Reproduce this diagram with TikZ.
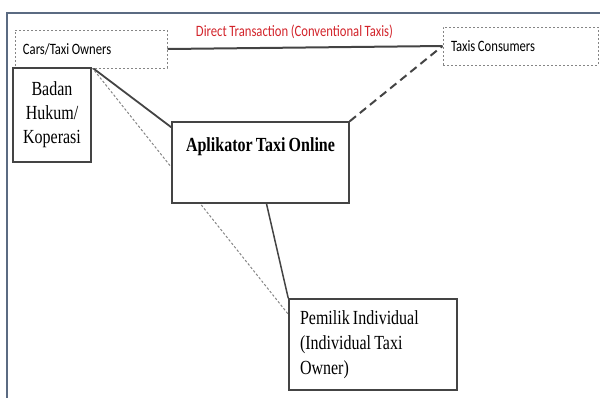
\documentclass[tikz,border=0pt]{standalone}
\usepackage{fontspec}
\setmainfont{Liberation Serif}[FakeStretch=0.8,WordSpace=0.8]
\newfontfamily\calib{Carlito}[FakeStretch=0.8,WordSpace=0.9]
\usepackage{tikz}
\usetikzlibrary{calc}
\definecolor{framecol}{HTML}{5B6B82}
\definecolor{boxcol}{HTML}{444444}
\definecolor{dotcol}{HTML}{858585}
\definecolor{redtxt}{HTML}{D2232A}
\pgfdeclarelayer{background}
\pgfsetlayers{background,main}

\begin{document}
\begin{tikzpicture}[x=0.5pt,y=-0.5pt,
solidbox/.style={draw=boxcol,fill=white,line width=0.75pt,inner sep=0pt,font=\fontsize{10}{12}\selectfont},
dotbox/.style={draw=dotcol,fill=white,line width=0.5pt,dash pattern=on 1.2pt off 0.8pt,inner ysep=0pt,inner xsep=4pt,
  minimum height=19pt,align=flush left,font=\calib\fontsize{7.9}{9}\selectfont}
]
\useasboundingbox (0,0) rectangle (600,398);
% The frame
\draw[framecol,line width=0.75pt] (600,13) -- (7,13) -- (7,398);

% The boxes
\node[dotbox,minimum width=76pt,text width=68pt] (cars) at (91,49) {Cars/Taxi Owners};
\node[dotbox,minimum width=77.5pt,text width=69.5pt] (taxis) at (520.5,46) {Taxis Consumers};
\node[solidbox,minimum width=39pt,minimum height=47pt,text width=39pt,align=center] (badan) at (52,115) {Badan\\Hukum/\\Koperasi};
\node[solidbox,minimum width=88.5pt,text height=14.5pt,text depth=26pt,font=\bfseries\fontsize{10}{12}\selectfont] (apl) at (260.5,162.5) {Aplikator Taxi Online};
\node[solidbox,minimum width=84pt,minimum height=45.5pt,inner xsep=5.5pt,text width=73pt,align=flush left,font=\fontsize{10}{12.5}\selectfont] (pem) at (373,344.5) {Pemilik Individual\\(Individual Taxi\\Owner)};

% The label
\node[font=\calib\fontsize{7.9}{9}\selectfont,text=redtxt] (direct) at (294.5,32) {Direct Transaction (Conventional Taxis)};

% The connections
\begin{pgfonlayer}{background}
\draw[boxcol,line width=1pt] (cars.east) -- (taxis.west);
\draw[boxcol,line width=1pt,dash pattern=on 4pt off 2.5pt] (apl.north east) -- (taxis.west);
\draw[boxcol,line width=0.9pt] (badan.north east) -- ([yshift=-3pt]apl.north west);
\draw[dotcol,line width=0.5pt,dash pattern=on 1.2pt off 1pt] (badan.north east) -- ([yshift=-8pt]pem.north west);
\draw[boxcol,line width=0.75pt] ([xshift=3pt]apl.south) -- (pem.north west);
\end{pgfonlayer}
\end{tikzpicture}
\end{document}
